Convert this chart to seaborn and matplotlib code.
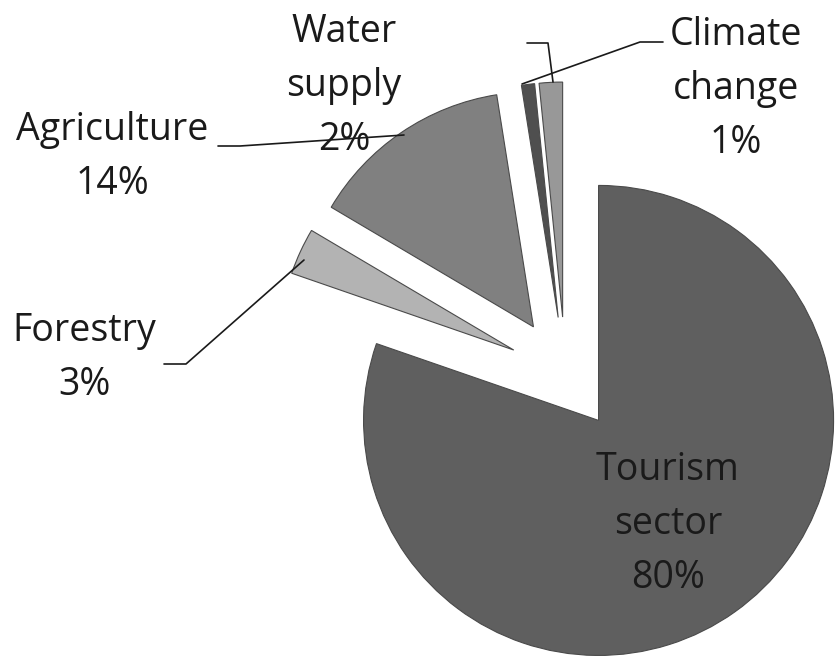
import matplotlib
matplotlib.use("Agg")
import matplotlib.pyplot as plt
import seaborn as sns

# ---- data ----
categories = ["Tourism\nsector", "Forestry", "Agriculture", "Climate\nchange", "Water\nsupply"]
shares = [80.3, 3.2, 14.0, 0.9, 1.6]
slice_colors = ["#5f5f5f", "#b3b3b3", "#808080", "#4f4f4f", "#989898"]

sns.set_theme(style="white")
plt.rcParams['font.family'] = ['Open Sans', 'DejaVu Sans']

W, H = 836, 657
fig = plt.figure(figsize=(W / 100, H / 100), dpi=100)
ax = fig.add_axes([0, 0, 1, 1])


def P(x, y):
    """image pixel coords -> data coords (y up)"""
    return x, H - y


cx, cy = P(565.5, 374)
radius = 235
offset = 57
ax.pie(shares, colors=slice_colors, startangle=90, counterclock=False,
       explode=[offset] * len(shares), center=(cx, cy), radius=radius,
       wedgeprops=dict(edgecolor="#4a4a4a", linewidth=0.8))
ax.set_aspect('equal', adjustable='datalim')
ax.set_xlim(0, W)
ax.set_ylim(0, H)
ax.axis('off')

labels = [f"{c}\n{v:.0f}%" for c, v in zip(categories, shares)]
label_pos = [(668, 524), (84, 358), (112, 157), (736, 89), (344, 86)]
for lab, (x, y) in zip(labels, label_pos):
    ax.text(*P(x, y), lab, ha='center', va='center', fontsize=27,
            color='#1a1a1a', linespacing=1.55)

leaders = [
    [(218, 146), (240, 146), (404, 135)],          # Agriculture
    [(164, 364), (186, 364), (304, 260)],          # Forestry
    [(527, 43), (548, 43), (553, 82)],             # Water supply
    [(663, 42), (640, 42), (522, 84)],             # Climate change
]
for pts in leaders:
    xs = [P(*p)[0] for p in pts]
    ys = [P(*p)[1] for p in pts]
    ax.plot(xs, ys, color='#1a1a1a', lw=1.2)

fig.savefig("out.png", dpi=100)
